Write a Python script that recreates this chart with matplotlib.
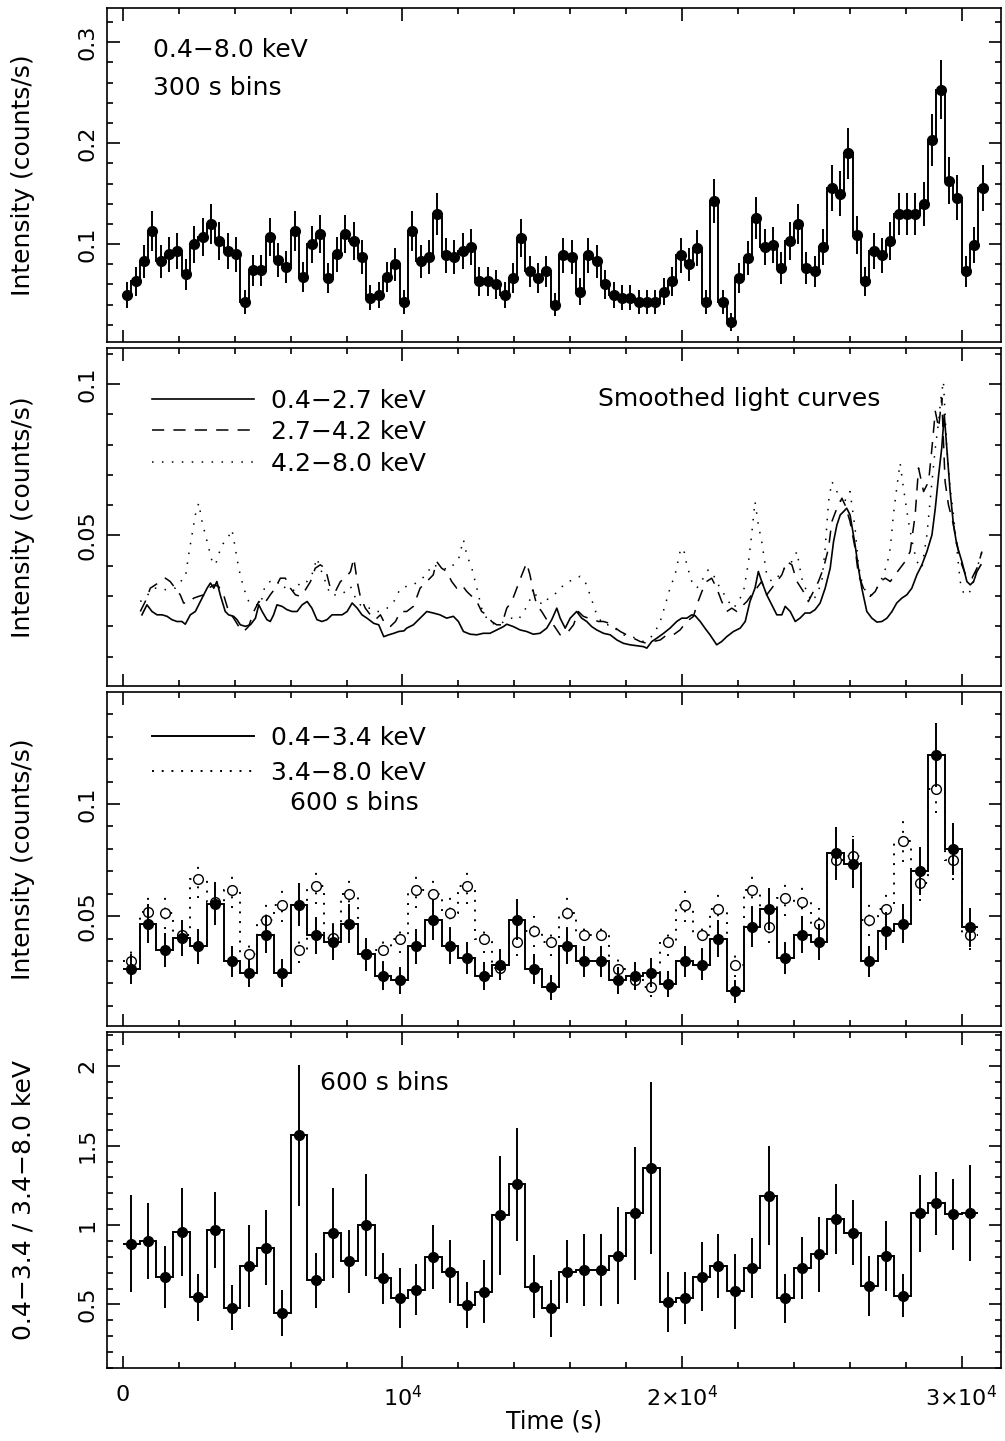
"""Four-panel X-ray light curve figure (total, smoothed bands, two bands, hardness ratio)."""

import numpy as np
import matplotlib
matplotlib.use("Agg")
import matplotlib.pyplot as plt
from matplotlib.lines import Line2D
from matplotlib.ticker import MultipleLocator, FuncFormatter

BIN_300 = 300.0
BIN_600 = 600.0

# ---- panel 1: 0.4-8.0 keV, 300 s bins
rate_total = [
    0.050, 0.063, 0.083, 0.113, 0.083, 0.090, 0.093, 0.070, 0.100, 0.107,
    0.120, 0.103, 0.093, 0.090, 0.043, 0.074, 0.074, 0.107, 0.084, 0.077,
    0.113, 0.067, 0.100, 0.110, 0.066, 0.090, 0.110, 0.103, 0.087, 0.047,
    0.050, 0.067, 0.080, 0.043, 0.113, 0.083, 0.087, 0.130, 0.089, 0.087,
    0.093, 0.097, 0.063, 0.063, 0.060, 0.050, 0.066, 0.106, 0.073, 0.066,
    0.073, 0.040, 0.089, 0.087, 0.053, 0.089, 0.083, 0.060, 0.050, 0.047,
    0.047, 0.043, 0.043, 0.043, 0.053, 0.063, 0.089, 0.080, 0.096, 0.043,
    0.143, 0.043, 0.023, 0.066, 0.086, 0.126, 0.097, 0.099, 0.076, 0.103,
    0.120, 0.076, 0.073, 0.097, 0.156, 0.150, 0.190, 0.109, 0.063, 0.093,
    0.089, 0.103, 0.130, 0.130, 0.130, 0.140, 0.203, 0.253, 0.163, 0.146,
    0.073, 0.099, 0.156,
]
err_total = [
    0.0129, 0.0145, 0.0166, 0.0194, 0.0166, 0.0173, 0.0176, 0.0153, 0.0183, 0.0189,
    0.0200, 0.0185, 0.0176, 0.0173, 0.0120, 0.0157, 0.0157, 0.0189, 0.0167, 0.0160,
    0.0194, 0.0149, 0.0183, 0.0191, 0.0148, 0.0173, 0.0191, 0.0185, 0.0170, 0.0125,
    0.0129, 0.0149, 0.0163, 0.0120, 0.0194, 0.0166, 0.0170, 0.0208, 0.0172, 0.0170,
    0.0176, 0.0180, 0.0145, 0.0145, 0.0141, 0.0129, 0.0148, 0.0188, 0.0156, 0.0148,
    0.0156, 0.0115, 0.0172, 0.0170, 0.0133, 0.0172, 0.0166, 0.0141, 0.0129, 0.0125,
    0.0125, 0.0120, 0.0120, 0.0120, 0.0133, 0.0145, 0.0172, 0.0163, 0.0179, 0.0120,
    0.0218, 0.0120, 0.0088, 0.0148, 0.0169, 0.0205, 0.0180, 0.0182, 0.0159, 0.0185,
    0.0200, 0.0159, 0.0156, 0.0180, 0.0228, 0.0224, 0.0252, 0.0191, 0.0145, 0.0176,
    0.0172, 0.0185, 0.0208, 0.0208, 0.0208, 0.0216, 0.0260, 0.0290, 0.0233, 0.0221,
    0.0156, 0.0182, 0.0228,
]

# ---- panel 2: smoothed light curves
smooth_soft_t = [
    680, 860, 1040, 1220, 1400, 1580, 1750, 1930, 2110, 2230, 2410, 2590, 2770, 2890,
    3010, 3130, 3250, 3360, 3480, 3660, 3780, 3960, 4080, 4200, 4380, 4560, 4740, 4860,
    4980, 5150, 5270, 5390, 5510, 5690, 5870, 6050, 6230, 6410, 6590, 6760, 6940, 7120,
    7300, 7480, 7660, 7840, 8020, 8200, 8380, 8550, 8730, 8970, 9150, 9330, 9510, 9690,
    9870, 10050, 10150, 10390, 10630, 10870, 11100, 11340, 11580, 11820, 12000, 12180,
    12420, 12660, 12890, 13130, 13370, 13610, 13730, 13970, 14210, 14440, 14680, 14920,
    15160, 15340, 15520, 15640, 15820, 16000, 16230, 16410, 16590, 16770, 16950, 17190,
    17430, 17670, 17900, 18140, 18380, 18620, 18740, 18920, 19100, 19340, 19570, 19810,
    19990, 20170, 20350, 20470, 20650, 20820, 21000, 21240, 21420, 21600, 21840, 22080,
    22260, 22430, 22610, 22730, 22850, 23030, 23210, 23390, 23570, 23690, 23870, 24050,
    24220, 24400, 24580, 24760, 24940, 25120, 25300, 25420, 25540, 25660, 25780, 25890,
    26010, 26190, 26310, 26430, 26610, 26790, 26970, 27150, 27330, 27510, 27680, 27860,
    28040, 28220, 28400, 28580, 28760, 28940, 29060, 29180, 29290, 29380, 29470, 29590,
    29710, 29830, 30010, 30190, 30310, 30430, 30550, 30690,
]
smooth_soft = [
    0.0238, 0.0271, 0.0249, 0.0238, 0.0238, 0.0233, 0.0222, 0.0216, 0.0216, 0.0207,
    0.0238, 0.0249, 0.0282, 0.0304, 0.0326, 0.0343, 0.0326, 0.0348, 0.0304, 0.0249,
    0.0238, 0.0233, 0.0222, 0.0205, 0.0200, 0.0205, 0.0227, 0.0271, 0.0249, 0.0222,
    0.0216, 0.0238, 0.0271, 0.0266, 0.0255, 0.0249, 0.0249, 0.0271, 0.0282, 0.0260,
    0.0222, 0.0216, 0.0222, 0.0238, 0.0238, 0.0238, 0.0249, 0.0277, 0.0260, 0.0238,
    0.0227, 0.0210, 0.0205, 0.0166, 0.0172, 0.0177, 0.0183, 0.0185, 0.0194, 0.0205,
    0.0227, 0.0249, 0.0244, 0.0238, 0.0227, 0.0233, 0.0216, 0.0183, 0.0174, 0.0172,
    0.0177, 0.0177, 0.0188, 0.0199, 0.0207, 0.0199, 0.0188, 0.0183, 0.0174, 0.0177,
    0.0194, 0.0222, 0.0260, 0.0227, 0.0194, 0.0227, 0.0249, 0.0227, 0.0216, 0.0199,
    0.0188, 0.0177, 0.0172, 0.0155, 0.0144, 0.0139, 0.0136, 0.0133, 0.0128, 0.0150,
    0.0161, 0.0177, 0.0194, 0.0216, 0.0227, 0.0227, 0.0238, 0.0235, 0.0216, 0.0194,
    0.0172, 0.0139, 0.0150, 0.0166, 0.0183, 0.0194, 0.0216, 0.0282, 0.0326, 0.0381,
    0.0348, 0.0304, 0.0271, 0.0238, 0.0238, 0.0266, 0.0249, 0.0216, 0.0227, 0.0244,
    0.0244, 0.0255, 0.0277, 0.0326, 0.0392, 0.0480, 0.0535, 0.0568, 0.0579, 0.0590,
    0.0568, 0.0469, 0.0392, 0.0326, 0.0249, 0.0227, 0.0214, 0.0216, 0.0227, 0.0249,
    0.0277, 0.0293, 0.0304, 0.0326, 0.0370, 0.0403, 0.0447, 0.0502, 0.0590, 0.0700,
    0.0789, 0.0899, 0.0789, 0.0645, 0.0535, 0.0469, 0.0414, 0.0348, 0.0337, 0.0348,
    0.0381, 0.0403,
]
smooth_mid_t = [
    620, 800, 980, 1160, 1340, 1520, 1690, 1870, 2050, 2170, 2350, 2530, 2710, 2890,
    3070, 3250, 3420, 3600, 3780, 3960, 4140, 4320, 4500, 4680, 4860, 5030, 5270, 5450,
    5630, 5810, 5990, 6170, 6350, 6530, 6710, 6880, 7060, 7240, 7420, 7600, 7780, 7960,
    8140, 8260, 8380, 8490, 8670, 8850, 9030, 9210, 9390, 9570, 9750, 9930, 10150, 10390,
    10630, 10870, 11100, 11220, 11400, 11580, 11760, 11940, 12120, 12300, 12480, 12660,
    12830, 13010, 13190, 13370, 13550, 13730, 13910, 14090, 14270, 14440, 14560, 14680,
    14800, 14980, 15160, 15400, 15640, 15880, 16120, 16290, 16470, 16650, 16830, 17010,
    17190, 17370, 17550, 17790, 18020, 18260, 18500, 18740, 18980, 19220, 19460, 19690,
    19930, 20170, 20410, 20530, 20710, 20880, 21060, 21240, 21420, 21600, 21780, 21960,
    22140, 22320, 22490, 22670, 22850, 23030, 23210, 23390, 23570, 23750, 23930, 24110,
    24340, 24520, 24700, 24880, 25060, 25240, 25360, 25540, 25720, 25830, 26010, 26190,
    26310, 26490, 26730, 26910, 27090, 27270, 27450, 27620, 27800, 27980, 28160, 28340,
    28460, 28640, 28820, 28940, 29060, 29180, 29290, 29410, 29530, 29710, 29890, 30010,
    30190, 30370, 30550, 30730,
]
smooth_mid = [
    0.0249, 0.0282, 0.0326, 0.0337, 0.0348, 0.0359, 0.0348, 0.0326, 0.0304, 0.0277,
    0.0277, 0.0293, 0.0299, 0.0304, 0.0326, 0.0337, 0.0332, 0.0304, 0.0249, 0.0227,
    0.0200, 0.0183, 0.0200, 0.0249, 0.0282, 0.0271, 0.0304, 0.0326, 0.0359, 0.0359,
    0.0326, 0.0304, 0.0299, 0.0321, 0.0348, 0.0392, 0.0403, 0.0392, 0.0326, 0.0315,
    0.0348, 0.0359, 0.0381, 0.0425, 0.0348, 0.0299, 0.0260, 0.0238, 0.0222, 0.0238,
    0.0205, 0.0200, 0.0216, 0.0249, 0.0249, 0.0266, 0.0326, 0.0348, 0.0370, 0.0414,
    0.0392, 0.0381, 0.0348, 0.0326, 0.0337, 0.0315, 0.0299, 0.0282, 0.0249, 0.0238,
    0.0216, 0.0205, 0.0205, 0.0260, 0.0282, 0.0326, 0.0370, 0.0409, 0.0370, 0.0315,
    0.0271, 0.0249, 0.0222, 0.0205, 0.0172, 0.0177, 0.0205, 0.0249, 0.0233, 0.0227,
    0.0222, 0.0216, 0.0216, 0.0211, 0.0199, 0.0183, 0.0172, 0.0161, 0.0150, 0.0144,
    0.0150, 0.0155, 0.0172, 0.0172, 0.0188, 0.0216, 0.0233, 0.0271, 0.0315, 0.0348,
    0.0359, 0.0326, 0.0282, 0.0249, 0.0260, 0.0249, 0.0266, 0.0282, 0.0304, 0.0326,
    0.0348, 0.0304, 0.0326, 0.0348, 0.0370, 0.0414, 0.0403, 0.0348, 0.0315, 0.0282,
    0.0315, 0.0348, 0.0392, 0.0458, 0.0546, 0.0590, 0.0623, 0.0601, 0.0546, 0.0458,
    0.0370, 0.0326, 0.0299, 0.0315, 0.0348, 0.0359, 0.0348, 0.0370, 0.0392, 0.0414,
    0.0447, 0.0568, 0.0723, 0.0645, 0.0678, 0.0789, 0.0910, 0.0855, 0.0954, 0.0678,
    0.0601, 0.0535, 0.0447, 0.0403, 0.0359, 0.0359, 0.0392, 0.0447,
]
smooth_hard_t = [
    620, 800, 980, 1160, 1340, 1520, 1690, 1870, 2050, 2230, 2350, 2470, 2590, 2710,
    2830, 2950, 3070, 3190, 3310, 3420, 3540, 3720, 3900, 4020, 4140, 4320, 4500, 4680,
    4920, 5090, 5270, 5450, 5630, 5810, 5990, 6170, 6350, 6590, 6760, 6940, 7060, 7240,
    7420, 7600, 7780, 7960, 8140, 8320, 8490, 8670, 8850, 9030, 9210, 9450, 9690, 9930,
    10150, 10390, 10630, 10870, 11040, 11280, 11460, 11640, 11820, 12000, 12180, 12300,
    12480, 12660, 12830, 13010, 13190, 13370, 13550, 13730, 13910, 14150, 14330, 14500,
    14680, 14860, 15040, 15220, 15400, 15580, 15760, 15940, 16120, 16350, 16530, 16710,
    16950, 17190, 17430, 17670, 17900, 18140, 18380, 18620, 18860, 19040, 19220, 19400,
    19570, 19750, 19930, 20050, 20170, 20350, 20530, 20760, 20940, 21120, 21300, 21480,
    21660, 21840, 22020, 22200, 22380, 22490, 22610, 22730, 22850, 23030, 23210, 23390,
    23570, 23750, 23930, 24110, 24280, 24460, 24640, 24820, 25000, 25120, 25240, 25360,
    25540, 25720, 25890, 26010, 26190, 26310, 26430, 26610, 26790, 26970, 27150, 27330,
    27450, 27560, 27680, 27800, 27920, 28100, 28280, 28400, 28580, 28760, 28940, 29060,
    29180, 29260, 29350, 29470, 29590, 29710, 29830, 29950, 30070, 30250, 30430, 30550,
    30730,
]
smooth_hard = [
    0.0282, 0.0293, 0.0315, 0.0326, 0.0326, 0.0321, 0.0326, 0.0326, 0.0348, 0.0359,
    0.0436, 0.0502, 0.0568, 0.0607, 0.0546, 0.0502, 0.0458, 0.0414, 0.0403, 0.0436,
    0.0469, 0.0486, 0.0519, 0.0458, 0.0392, 0.0326, 0.0282, 0.0271, 0.0271, 0.0337,
    0.0348, 0.0337, 0.0348, 0.0326, 0.0326, 0.0315, 0.0348, 0.0348, 0.0370, 0.0425,
    0.0392, 0.0348, 0.0304, 0.0304, 0.0304, 0.0315, 0.0332, 0.0293, 0.0271, 0.0260,
    0.0260, 0.0249, 0.0249, 0.0260, 0.0282, 0.0326, 0.0332, 0.0337, 0.0354, 0.0370,
    0.0403, 0.0398, 0.0392, 0.0387, 0.0403, 0.0420, 0.0486, 0.0436, 0.0392, 0.0326,
    0.0260, 0.0227, 0.0211, 0.0205, 0.0211, 0.0222, 0.0227, 0.0222, 0.0249, 0.0271,
    0.0326, 0.0282, 0.0271, 0.0293, 0.0304, 0.0315, 0.0337, 0.0348, 0.0354, 0.0365,
    0.0348, 0.0304, 0.0238, 0.0205, 0.0205, 0.0188, 0.0172, 0.0166, 0.0161, 0.0150,
    0.0161, 0.0183, 0.0216, 0.0271, 0.0326, 0.0370, 0.0447, 0.0458, 0.0403, 0.0348,
    0.0326, 0.0359, 0.0387, 0.0370, 0.0337, 0.0310, 0.0282, 0.0260, 0.0282, 0.0315,
    0.0414, 0.0502, 0.0612, 0.0535, 0.0480, 0.0370, 0.0348, 0.0359, 0.0381, 0.0403,
    0.0414, 0.0447, 0.0359, 0.0315, 0.0282, 0.0304, 0.0348, 0.0458, 0.0612, 0.0678,
    0.0645, 0.0601, 0.0623, 0.0645, 0.0524, 0.0403, 0.0348, 0.0304, 0.0304, 0.0326,
    0.0359, 0.0403, 0.0458, 0.0568, 0.0657, 0.0739, 0.0657, 0.0546, 0.0458, 0.0414,
    0.0392, 0.0502, 0.0678, 0.0789, 0.0877, 0.0954, 0.1009, 0.0789, 0.0657, 0.0568,
    0.0458, 0.0348, 0.0310, 0.0304, 0.0348, 0.0392, 0.0447,
]

# ---- panel 3: 0.4-3.4 keV (filled) and 3.4-8.0 keV (open), 600 s bins
rate_soft = [
    0.0265, 0.0466, 0.0350, 0.0402, 0.0366, 0.0555, 0.0298, 0.0246, 0.0417, 0.0246,
    0.0551, 0.0414, 0.0384, 0.0466, 0.0329, 0.0232, 0.0213, 0.0366, 0.0484, 0.0366,
    0.0314, 0.0232, 0.0283, 0.0484, 0.0265, 0.0183, 0.0366, 0.0298, 0.0298, 0.0213,
    0.0232, 0.0247, 0.0198, 0.0298, 0.0283, 0.0399, 0.0165, 0.0451, 0.0533, 0.0314,
    0.0417, 0.0384, 0.0783, 0.0734, 0.0298, 0.0432, 0.0466, 0.0700, 0.1217, 0.0801,
    0.0451,
]
err_soft = [
    0.0066, 0.0088, 0.0076, 0.0082, 0.0078, 0.0096, 0.0070, 0.0064, 0.0083, 0.0064,
    0.0096, 0.0083, 0.0080, 0.0088, 0.0074, 0.0062, 0.0060, 0.0078, 0.0090, 0.0078,
    0.0072, 0.0062, 0.0069, 0.0090, 0.0066, 0.0055, 0.0078, 0.0070, 0.0070, 0.0060,
    0.0062, 0.0064, 0.0057, 0.0070, 0.0069, 0.0082, 0.0052, 0.0087, 0.0094, 0.0072,
    0.0083, 0.0080, 0.0114, 0.0111, 0.0070, 0.0085, 0.0088, 0.0108, 0.0142, 0.0116,
    0.0087,
]
rate_hard = [
    0.0302, 0.0518, 0.0515, 0.0417, 0.0664, 0.0565, 0.0615, 0.0332, 0.0484, 0.0551,
    0.0351, 0.0634, 0.0402, 0.0600, 0.0330, 0.0351, 0.0399, 0.0615, 0.0600, 0.0515,
    0.0634, 0.0399, 0.0268, 0.0384, 0.0432, 0.0384, 0.0515, 0.0414, 0.0414, 0.0265,
    0.0217, 0.0183, 0.0384, 0.0551, 0.0414, 0.0530, 0.0283, 0.0618, 0.0451, 0.0580,
    0.0565, 0.0466, 0.0749, 0.0768, 0.0484, 0.0533, 0.0833, 0.0649, 0.1068, 0.0749,
    0.0414,
]
err_hard = [
    0.0057, 0.0074, 0.0074, 0.0067, 0.0084, 0.0078, 0.0081, 0.0060, 0.0072, 0.0077,
    0.0061, 0.0082, 0.0065, 0.0080, 0.0059, 0.0061, 0.0065, 0.0081, 0.0080, 0.0074,
    0.0082, 0.0065, 0.0053, 0.0064, 0.0068, 0.0064, 0.0074, 0.0066, 0.0066, 0.0053,
    0.0048, 0.0044, 0.0064, 0.0077, 0.0066, 0.0075, 0.0055, 0.0081, 0.0069, 0.0079,
    0.0078, 0.0070, 0.0089, 0.0090, 0.0072, 0.0075, 0.0094, 0.0083, 0.0107, 0.0089,
    0.0066,
]

# ---- panel 4: hardness ratio (0.4-3.4 / 3.4-8.0 keV), 600 s bins
ratio = [
    0.884, 0.901, 0.674, 0.957, 0.544, 0.968, 0.481, 0.741, 0.857, 0.448,
    1.566, 0.653, 0.951, 0.773, 0.999, 0.664, 0.538, 0.594, 0.800, 0.706,
    0.496, 0.580, 1.062, 1.257, 0.611, 0.475, 0.706, 0.716, 0.716, 0.806,
    1.073, 1.360, 0.517, 0.542, 0.674, 0.743, 0.584, 0.727, 1.184, 0.538,
    0.731, 0.815, 1.041, 0.953, 0.617, 0.806, 0.555, 1.073, 1.136, 1.067,
    1.077,
]
ratio_err = [
    0.306, 0.238, 0.195, 0.278, 0.148, 0.239, 0.144, 0.259, 0.236, 0.144,
    0.443, 0.173, 0.283, 0.199, 0.320, 0.159, 0.189, 0.163, 0.202, 0.199,
    0.143, 0.199, 0.375, 0.356, 0.198, 0.178, 0.199, 0.225, 0.225, 0.306,
    0.418, 0.542, 0.189, 0.164, 0.218, 0.204, 0.236, 0.189, 0.312, 0.157,
    0.194, 0.234, 0.220, 0.205, 0.189, 0.218, 0.136, 0.241, 0.197, 0.225,
    0.302,
]

X_TICK_TEXT = {0: "0", 10000: r"$10^4$", 20000: r"$2{\times}10^4$", 30000: r"$3{\times}10^4$"}

plt.rcParams["font.family"] = ["DejaVu Sans"]
plt.rcParams["mathtext.fontset"] = "dejavusans"

W, H = 1005, 1441
fig = plt.figure(figsize=(W / 100, H / 100), dpi=100)


def panel(top_px, bottom_px):
    left, right = 107, 1001
    return fig.add_axes([left / W, 1 - bottom_px / H, (right - left) / W, (bottom_px - top_px) / H])


def style(ax, ymajor, yminor, show_x=False):
    ax.set_xlim(-570, 31410)
    ax.xaxis.set_major_locator(MultipleLocator(10000))
    ax.xaxis.set_minor_locator(MultipleLocator(2000))
    ax.yaxis.set_major_locator(MultipleLocator(ymajor))
    ax.yaxis.set_minor_locator(MultipleLocator(yminor))
    ax.yaxis.set_major_formatter(FuncFormatter(lambda v, p: f"{v:g}"))
    ax.xaxis.set_major_formatter(FuncFormatter(lambda v, p: X_TICK_TEXT.get(int(round(v)), "")))
    ax.tick_params(which="both", direction="in", top=True, right=True, width=1.2, color="k")
    ax.tick_params(which="major", length=9)
    ax.tick_params(which="minor", length=4.5)
    ax.tick_params(axis="y", labelsize=16, pad=7, labelrotation=90)
    ax.tick_params(axis="x", labelsize=16, pad=12, labelbottom=show_x)
    for sp in ax.spines.values():
        sp.set_linewidth(1.2)
    for lab in ax.get_yticklabels():
        lab.set_va("center")


def step_edges(n, width):
    return np.arange(n + 1) * width


# ---------------- panel 1
ax1 = panel(8, 342)
t300 = BIN_300 * (np.arange(len(rate_total)) + 0.5)
ax1.stairs(rate_total, step_edges(len(rate_total), BIN_300), baseline=None, color="k", lw=1.4)
ax1.errorbar(t300, rate_total, yerr=err_total, fmt="o", color="k", ms=7, elinewidth=1.4,
             capsize=0, zorder=3)
ax1.set_ylim(0.003, 0.334)
style(ax1, 0.1, 0.02)
ax1.text(0.0515, 0.874, "0.4\u22128.0 keV", transform=ax1.transAxes, fontsize=18, va="center")
ax1.text(0.0515, 0.760, "300 s bins", transform=ax1.transAxes, fontsize=18, va="center")
ax1.set_ylabel("Intensity (counts/s)", fontsize=18)
ax1.yaxis.set_label_coords(-0.08, 0.5)

# ---------------- panel 2
ax2 = panel(348, 686)
dash_style = (0, (8, 6))
dot_style = (0, (1, 5.5))
ax2.plot(smooth_soft_t, smooth_soft, color="k", lw=1.2)
ax2.plot(smooth_mid_t, smooth_mid, color="k", lw=1.1, linestyle=dash_style)
ax2.plot(smooth_hard_t, smooth_hard, color="k", lw=1.1, linestyle=dot_style)
ax2.set_ylim(0.0003, 0.1119)
style(ax2, 0.05, 0.01)
handles2 = [
    Line2D([], [], color="k", lw=1.2),
    Line2D([], [], color="k", lw=1.1, linestyle=dash_style),
    Line2D([], [], color="k", lw=1.1, linestyle=dot_style),
]
ax2.legend(handles2, ["0.4\u22122.7 keV", "2.7\u22124.2 keV", "4.2\u22128.0 keV"],
           loc="upper left", bbox_to_anchor=(0.05, 0.88), frameon=False, fontsize=18,
           handlelength=4.1, handletextpad=0.68, labelspacing=0.3, borderaxespad=0,
           borderpad=0)
ax2.text(0.549, 0.849, "Smoothed light curves", transform=ax2.transAxes, fontsize=18,
         va="center")
ax2.set_ylabel("Intensity (counts/s)", fontsize=18)
ax2.yaxis.set_label_coords(-0.08, 0.5)

# ---------------- panel 3
ax3 = panel(692, 1026)
t600 = BIN_600 * (np.arange(len(rate_soft)) + 0.5)
edges600 = step_edges(len(rate_soft), BIN_600)
dot3 = (0, (1, 4))
ax3.stairs(rate_hard, edges600, baseline=None, color="k", lw=1.4, linestyle=dot3)
eb = ax3.errorbar(t600, rate_hard, yerr=err_hard, fmt="o", ms=7, mfc="white", mec="k",
                  mew=1.0, ecolor="k", elinewidth=1.4, capsize=0, zorder=3)
eb[2][0].set_linestyle(dot3)
ax3.stairs(rate_soft, edges600, baseline=None, color="k", lw=1.4, zorder=4)
ax3.errorbar(t600, rate_soft, yerr=err_soft, fmt="o", color="k", ms=7, elinewidth=1.4,
             capsize=0, zorder=5)
ax3.set_ylim(0.001, 0.1499)
style(ax3, 0.05, 0.01)
handles3 = [
    Line2D([], [], color="k", lw=1.4),
    Line2D([], [], color="k", lw=1.4, linestyle=dot3),
]
ax3.legend(handles3, ["0.4\u22123.4 keV", "3.4\u22128.0 keV"],
           loc="upper left", bbox_to_anchor=(0.05, 0.898), frameon=False, fontsize=18,
           handlelength=4.1, handletextpad=0.68, labelspacing=0.42, borderaxespad=0,
           borderpad=0)
ax3.text(0.205, 0.668, "600 s bins", transform=ax3.transAxes, fontsize=18, va="center")
ax3.set_ylabel("Intensity (counts/s)", fontsize=18)
ax3.yaxis.set_label_coords(-0.08, 0.5)

# ---------------- panel 4
ax4 = panel(1032, 1368)
ax4.stairs(ratio, edges600, baseline=None, color="k", lw=1.4)
ax4.errorbar(t600, ratio, yerr=ratio_err, fmt="o", color="k", ms=7, elinewidth=1.4,
             capsize=0, zorder=3)
ax4.set_ylim(0.1, 2.216)
style(ax4, 0.5, 0.1, show_x=True)
ax4.text(0.238, 0.848, "600 s bins", transform=ax4.transAxes, fontsize=18, va="center")
ax4.set_ylabel("0.4\u22123.4 / 3.4\u22128.0 keV", fontsize=18)
ax4.yaxis.set_label_coords(-0.08, 0.5)
ax4.set_xlabel("Time (s)", fontsize=17)
ax4.xaxis.set_label_coords(0.5, -0.125)

fig.savefig("out.png", dpi=100)
